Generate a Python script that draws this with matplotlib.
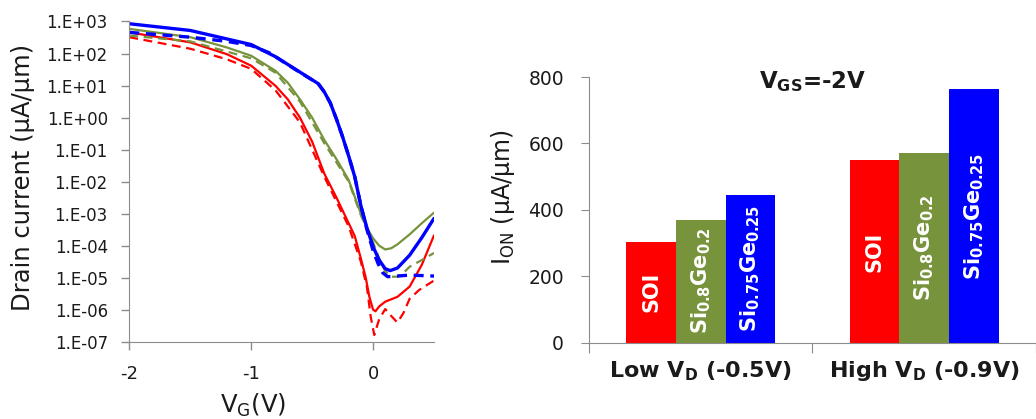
import numpy as np
import matplotlib
matplotlib.use('Agg')
import matplotlib.pyplot as plt
from matplotlib.ticker import FixedLocator, FuncFormatter

plt.rcParams['font.family'] = ['DejaVu Sans']
plt.rcParams['mathtext.default'] = 'regular'
plt.rcParams['axes.unicode_minus'] = False

# ---- Id-Vg curves (log10 of drain current in uA/um) ----
vg_blue = [-2.0, -1.5, -1.0, -0.8, -0.6, -0.45, -0.4, -0.35, -0.3, -0.25, -0.2, -0.15, -0.1,
           -0.05, 0.0, 0.05, 0.1, 0.14, 0.2, 0.3, 0.4, 0.5]
log_blue = [2.93, 2.72, 2.28, 1.9, 1.42, 1.06, 0.8, 0.45, -0.05, -0.6, -1.2, -1.85, -2.75,
            -3.45, -4.03, -4.45, -4.72, -4.78, -4.7, -4.3, -3.75, -3.15]
vg_blue_d = [-2.0, -1.5, -1.2, -1.0, -0.85, -0.6, -0.45, -0.4, -0.35, -0.3, -0.25, -0.2, -0.15,
             -0.1, -0.05, 0.0, 0.04, 0.08, 0.12, 0.2, 0.3, 0.5]
log_blue_d = [2.66, 2.51, 2.38, 2.25, 2.02, 1.41, 1.06, 0.8, 0.45, -0.05, -0.6, -1.2, -1.85,
              -2.75, -3.5, -4.15, -4.55, -4.85, -4.97, -4.95, -4.92, -4.95]

vg_green = [-2.0, -1.5, -1.2, -1.0, -0.8, -0.7, -0.6, -0.5, -0.4, -0.3, -0.2, -0.1, -0.05,
            0.0, 0.05, 0.1, 0.15, 0.2, 0.3, 0.4, 0.5]
log_green = [2.77, 2.51, 2.19, 1.93, 1.46, 1.09, 0.57, 0.0, -0.7, -1.3, -1.95, -3.0, -3.45,
             -3.77, -4.0, -4.12, -4.08, -3.96, -3.65, -3.3, -2.97]
vg_green_d = [-2.0, -1.5, -1.0, -0.8, -0.6, -0.4, -0.2, -0.1, 0.0, 0.05, 0.1, 0.15, 0.2, 0.25,
              0.3, 0.4, 0.5]
log_green_d = [2.56, 2.38, 1.85, 1.4, 0.5, -0.8, -2.0, -3.05, -3.9, -4.4, -4.8, -4.97, -4.97,
               -4.85, -4.66, -4.45, -4.23]

vg_red = [-2.0, -1.5, -1.2, -1.0, -0.8, -0.7, -0.6, -0.5, -0.4, -0.3, -0.2, -0.15, -0.1,
          -0.06, -0.03, 0.0, 0.02, 0.05, 0.1, 0.2, 0.3, 0.4, 0.5]
log_red = [2.66, 2.35, 1.98, 1.62, 0.99, 0.57, 0.0, -0.75, -1.75, -2.5, -3.3, -3.7, -4.4,
           -5.0, -5.6, -6.0, -6.05, -5.9, -5.75, -5.6, -5.28, -4.6, -3.68]
vg_red_d = [-2.0, -1.5, -1.2, -1.0, -0.8, -0.6, -0.4, -0.2, -0.1, -0.05, -0.02, 0.01, 0.05,
            0.1, 0.15, 0.2, 0.25, 0.3, 0.38, 0.5]
log_red_d = [2.51, 2.15, 1.82, 1.52, 0.85, -0.15, -1.85, -3.4, -4.5, -5.3, -6.2, -6.79, -6.3,
             -5.98, -6.2, -6.4, -6.1, -5.66, -5.38, -5.09]

# ---- ION bar chart ----
groups = ['Low V$_D$ (-0.5V)', 'High V$_D$ (-0.9V)']
materials = ['SOI', 'Si$_{0.8}$Ge$_{0.2}$', 'Si$_{0.75}$Ge$_{0.25}$']
ion = {'SOI': [304, 550],
       'Si$_{0.8}$Ge$_{0.2}$': [369, 571],
       'Si$_{0.75}$Ge$_{0.25}$': [445, 763]}
colors = ['#FF0000', '#77933C', '#0000FF']
axis_gray = '#8C8C8C'
text_col = '#1A1A1A'

fig = plt.figure(figsize=(10.36, 4.19), dpi=100)

# left panel
ax1 = fig.add_axes([0.1248, 0.1845, 0.2941, 0.7642])
curves = [(vg_red, log_red, colors[0], '-', 1.6),
          (vg_red_d, log_red_d, colors[0], (0, (4, 2.5)), 1.6),
          (vg_green, log_green, colors[1], '-', 1.6),
          (vg_green_d, log_green_d, colors[1], (0, (4, 2.5)), 1.6),
          (vg_blue_d, log_blue_d, colors[2], (0, (3, 2)), 2.4),
          (vg_blue, log_blue, colors[2], '-', 2.4)]
for x, ly, c, ls, lw in curves:
    ax1.plot(x, 10 ** np.array(ly), color=c, ls=ls, lw=lw, solid_capstyle='round')
ax1.set_yscale('log')
ax1.set_xlim(-2, 0.5)
ax1.set_ylim(1e-7, 1e3)
ax1.set_xticks([-2, -1, 0])
ax1.xaxis.set_minor_locator(FixedLocator([]))
ax1.yaxis.set_major_locator(FixedLocator([10.0 ** e for e in range(-7, 4)]))
ax1.yaxis.set_minor_locator(FixedLocator([]))
ax1.yaxis.set_major_formatter(FuncFormatter(lambda v, p: '1.E%+03d' % round(np.log10(v))))
ax1.set_ylabel('Drain current (µA/µm)', fontsize=17.5, color=text_col)
ax1.yaxis.set_label_coords(-0.31, 0.514)
ax1.set_xlabel('V$_G$(V)', fontsize=17.5, color=text_col)
ax1.xaxis.set_label_coords(0.406, -0.155)
ax1.tick_params(axis='y', labelsize=12, length=5.5, color=axis_gray, width=1, pad=10,
                labelcolor=text_col)
ax1.tick_params(axis='x', labelsize=13, length=5.5, color=axis_gray, width=1, pad=11,
                labelcolor=text_col)
for s in ['top', 'right']:
    ax1.spines[s].set_visible(False)
for s in ['left', 'bottom']:
    ax1.spines[s].set_color(axis_gray)

# right panel
ax2 = fig.add_axes([0.5685, 0.1821, 0.4315, 0.6339])
xpos = np.arange(len(groups))
w = 0.222
for i, m in enumerate(materials):
    xs = xpos + (i - 1) * w
    ax2.bar(xs, ion[m], width=w, color=colors[i])
    for xx, v in zip(xs, ion[m]):
        ax2.text(xx, v / 2, m, rotation=90, ha='center', va='center', color='white',
                 fontsize=15, fontweight='bold')
ax2.set_xlim(-0.5, 1.463)
ax2.set_ylim(0, 800)
ax2.set_yticks([0, 200, 400, 600, 800])
ax2.set_xticks([-0.5, 0.5, 1.5])
ax2.set_xticklabels([])
ax2.set_xticks(xpos, minor=True)
ax2.set_xticklabels(groups, minor=True, fontsize=16, fontweight='bold', color=text_col)
ax2.tick_params(axis='x', which='major', length=7.5, color=axis_gray)
ax2.tick_params(axis='x', which='minor', length=0, pad=12)
ax2.tick_params(axis='y', labelsize=13.5, length=6, color=axis_gray, pad=12,
                labelcolor=text_col)
ax2.set_ylabel('I$_{ON}$ (µA/µm)', fontsize=17, color=text_col)
ax2.yaxis.set_label_coords(-0.161, 0.549)
ax2.text(0.5, 0.959, 'V$_{GS}$=-2V', transform=ax2.transAxes, ha='center', va='baseline',
         fontsize=16.5, fontweight='bold', color=text_col)
for s in ['top', 'right']:
    ax2.spines[s].set_visible(False)
for s in ['left', 'bottom']:
    ax2.spines[s].set_color(axis_gray)

fig.savefig('out.png', dpi=100)
